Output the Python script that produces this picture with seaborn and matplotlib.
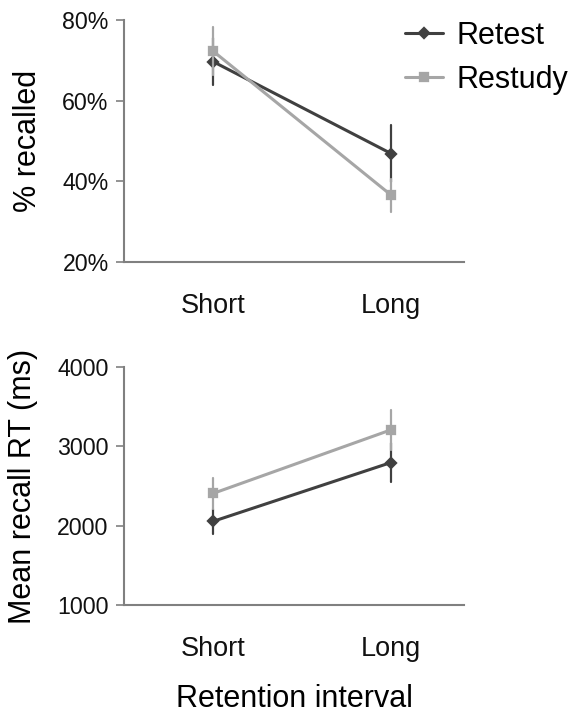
import numpy as np
import pandas as pd
import matplotlib
matplotlib.use("Agg")
import matplotlib.pyplot as plt
import seaborn as sns

# ---- data ----
intervals = ["Short", "Long"]
conditions = ["Retest", "Restudy"]
recall_retest = [69.7, 46.9]
recall_retest_err = [5.8, 7.0]
recall_restudy = [72.3, 36.6]
recall_restudy_err = [5.9, 4.1]
rt_retest = [2054, 2796]
rt_retest_err = [160, 250]
rt_restudy = [2406, 3208]
rt_restudy_err = [200, 250]
pct_ticks = [20, 40, 60, 80]
pct_tick_labels = ["20%", "40%", "60%", "80%"]
rt_ticks = [1000, 2000, 3000, 4000]

colors = {"Retest": "#404040", "Restudy": "#a6a6a6"}
markers = ["D", "s"]


def make_df(ret, ret_err, res, res_err):
    rows = []
    for cond, m, e in (("Retest", ret, ret_err), ("Restudy", res, res_err)):
        for iv, mv, ev in zip(intervals, m, e):
            rows.append({"interval": iv, "condition": cond, "value": mv - ev})
            rows.append({"interval": iv, "condition": cond, "value": mv + ev})
    return pd.DataFrame(rows)


df_pct = make_df(recall_retest, recall_retest_err, recall_restudy, recall_restudy_err)
df_rt = make_df(rt_retest, rt_retest_err, rt_restudy, rt_restudy_err)

sns.set_theme(style="white")
plt.rcParams["font.family"] = ["Liberation Sans", "DejaVu Sans"]
plt.rcParams["text.color"] = "black"
plt.rcParams["axes.labelcolor"] = "black"

fig = plt.figure(figsize=(5.75, 7.13), dpi=100)
ax1 = fig.add_axes([124 / 575, 1 - 262 / 713, 340 / 575, 242 / 713])
ax2 = fig.add_axes([124 / 575, 1 - 605 / 713, 340 / 575, 238 / 713])


def draw(ax, df):
    sns.pointplot(
        data=df, x="interval", y="value", hue="condition",
        order=intervals, hue_order=conditions, palette=colors,
        markers=markers, estimator="mean",
        errorbar=lambda v: (v.min(), v.max()),
        dodge=False, ax=ax, markersize=5.5, linewidth=2.2,
        err_kws={"linewidth": 1.6},
    )
    for sp in ["top", "right"]:
        ax.spines[sp].set_visible(False)
    for sp in ["left", "bottom"]:
        ax.spines[sp].set_color("#808080")
        ax.spines[sp].set_linewidth(1.5)
    ax.set_xlim(-0.5, 1.41)
    ax.tick_params(axis="y", which="major", left=True, length=6, width=1.2,
                   color="#808080", pad=5, labelsize=16.7, labelcolor="#111111")
    ax.tick_params(axis="x", bottom=False, length=0, pad=22.5, labelsize=19.5,
                   labelcolor="#111111")
    ax.set_xlabel("")
    ax.get_legend().remove()


draw(ax1, df_pct)
ax1.set_ylim(20, 80)
ax1.set_yticks(pct_ticks)
ax1.set_yticklabels(pct_tick_labels)
ax1.set_ylabel("% recalled", fontsize=22, labelpad=14)

draw(ax2, df_rt)
ax2.set_ylim(1000, 4000)
ax2.set_yticks(rt_ticks)
ax2.set_yticklabels([str(t) for t in rt_ticks])
ax2.set_ylabel("Mean recall RT (ms)", fontsize=22, labelpad=14)
ax2.set_xlabel("Retention interval", fontsize=22, labelpad=16)

handles, labels = ax1.get_legend_handles_labels()
fig.legend(handles, labels, loc="upper left",
           bbox_to_anchor=(405 / 575, 1 - 21 / 713), frameon=False,
           fontsize=22, handlelength=1.25, handletextpad=0.45,
           labelspacing=0.45, borderpad=0, borderaxespad=0)

fig.savefig("out.png", dpi=100)
